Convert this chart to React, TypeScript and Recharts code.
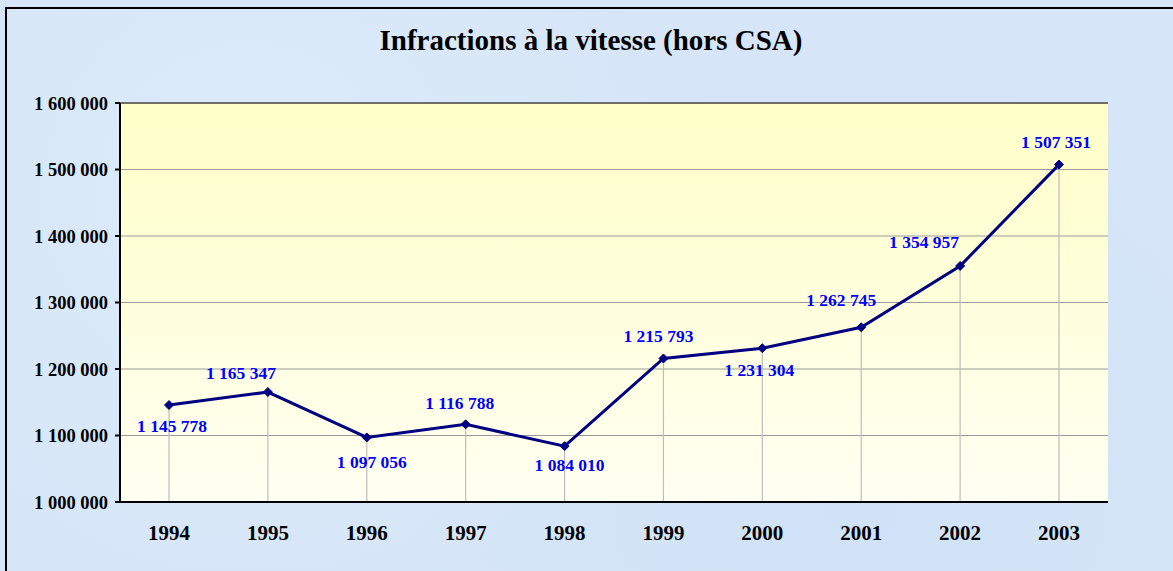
import React from "react"
import {
  LineChart,
  Line,
  XAxis,
  YAxis,
  CartesianGrid,
  ErrorBar,
  ReferenceLine,
  LabelList,
} from "recharts"

const years = ["1994", "1995", "1996", "1997", "1998", "1999", "2000", "2001", "2002", "2003"]
const infractions = [1145778, 1165347, 1097056, 1116788, 1084010, 1215793, 1231304, 1262745, 1354957, 1507351]
const yTicks = [1000000, 1100000, 1200000, 1300000, 1400000, 1500000, 1600000]

// where each data label sits relative to its point (dx, dy of the text centre)
const labelOffsets = [
  [3, 21], [-27, -19], [5, 25], [-6, -21], [5, 19],
  [-5, -22], [-3, 22], [-20, -27], [-36, -24], [-3, -23],
]

const Y_MIN = 1000000

const data = years.map((year, i) => ({
  year,
  value: infractions[i],
  drop: [infractions[i] - Y_MIN, 0],
}))

const fmt = (n: number) => String(n).replace(/\B(?=(\d{3})+(?!\d))/g, " ")

const serif = "'Liberation Serif', 'Times New Roman', serif"

function Diamond(props: any) {
  const { cx, cy } = props
  if (cx == null || cy == null) return null
  const r = 4.5
  return (
    <path
      d={`M${cx},${cy - r} L${cx + r},${cy} L${cx},${cy + r} L${cx - r},${cy} Z`}
      fill="#000080"
      stroke="#000080"
    />
  )
}

function ValueLabel(props: any) {
  const { x, y, index, value } = props
  const [dx, dy] = labelOffsets[index] || [0, -20]
  return (
    <text
      x={x + dx}
      y={y + dy}
      textAnchor="middle"
      dominantBaseline="central"
      fill="#0000ff"
      fontFamily={serif}
      fontWeight="bold"
      fontSize={17.5}
    >
      {fmt(value)}
    </text>
  )
}

export default function App() {
  return (
    <div
      style={{
        position: "absolute",
        left: 0,
        top: 0,
        width: 1173,
        height: 571,
        overflow: "hidden",
        background: "#d6e6f8",
      }}
    >
      <div
        style={{
          position: "absolute",
          left: 5,
          top: 7,
          width: 1220,
          height: 620,
          border: "2px solid #000",
          background:
            "radial-gradient(circle at 20% 30%, #dcebfb 0%, transparent 40%), radial-gradient(circle at 70% 80%, #d0e2f6 0%, transparent 45%), #d6e6f8",
        }}
      />
      <div
        style={{
          position: "absolute",
          left: 0,
          width: 1182,
          top: 24,
          textAlign: "center",
          fontFamily: serif,
          fontWeight: "bold",
          fontSize: 29,
          color: "#000",
        }}
      >
        Infractions à la vitesse (hors CSA)
      </div>
      <div style={{ position: "absolute", left: 0, top: 0 }}>
        <LineChart
          width={1173}
          height={571}
          data={data}
          margin={{ top: 103, right: 65, bottom: 0, left: 0 }}
        >
          <defs>
            <linearGradient id="plotFill" x1="0" y1="0" x2="0" y2="1">
              <stop offset="0%" stopColor="#ffffc8" />
              <stop offset="100%" stopColor="#fffff2" />
            </linearGradient>
          </defs>
          <CartesianGrid
            vertical={false}
            stroke="#9a9a9a"
            fill="url(#plotFill)"
            fillOpacity={1}
          />
          <XAxis
            dataKey="year"
            height={69}
            padding={{ left: 49, right: 49 }}
            axisLine={{ stroke: "#000", strokeWidth: 2 }}
            tickLine={false}
            tickSize={0}
            tickMargin={23}
            tick={{ fill: "#000", fontFamily: serif, fontWeight: "bold", fontSize: 21 }}
          />
          <YAxis
            width={120}
            domain={[Y_MIN, 1600000]}
            ticks={yTicks}
            allowDataOverflow
            tickFormatter={fmt}
            axisLine={{ stroke: "#000", strokeWidth: 2 }}
            tickLine={{ stroke: "#000", strokeWidth: 2 }}
            tickSize={5}
            tickMargin={7}
            tick={{ fill: "#000", fontFamily: serif, fontWeight: "bold", fontSize: 18.5 }}
          />
          <YAxis
            yAxisId="frame"
            orientation="right"
            width={0}
            domain={[Y_MIN, 1600000]}
            tick={false}
            tickLine={false}
            axisLine={{ stroke: "#707070", strokeWidth: 1.5 }}
          />
          <ReferenceLine y={1600000} stroke="#505050" strokeWidth={1.5} />
          <Line
            dataKey="value"
            stroke="#000080"
            strokeWidth={3}
            dot={<Diamond />}
            activeDot={false}
            isAnimationActive={false}
          >
            <ErrorBar dataKey="drop" width={0} stroke="#bdbdbd" strokeWidth={1.2} direction="y" />
            <LabelList dataKey="value" content={<ValueLabel />} />
          </Line>
        </LineChart>
      </div>
    </div>
  )
}
